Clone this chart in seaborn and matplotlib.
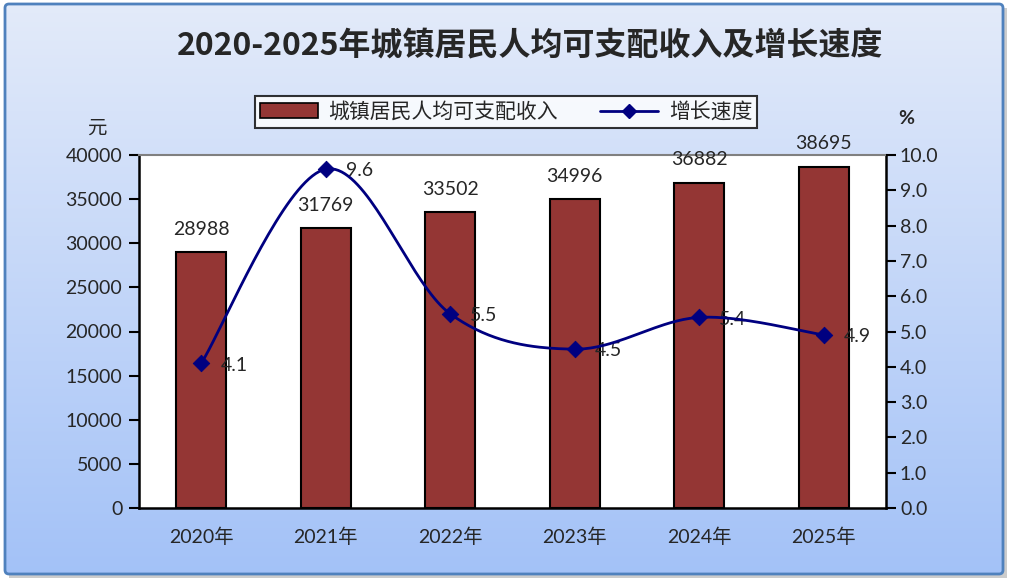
import numpy as np
import pandas as pd
import matplotlib
matplotlib.use("Agg")
import matplotlib.pyplot as plt
import seaborn as sns
from matplotlib.patches import FancyBboxPatch, Rectangle
from matplotlib.lines import Line2D

# data
years = ["2020年", "2021年", "2022年", "2023年", "2024年", "2025年"]
income = [28988, 31769, 33502, 34996, 36882, 38695]
growth = [4.1, 9.6, 5.5, 4.5, 5.4, 4.9]

sns.set_theme(style="white")
plt.rcParams["font.family"] = ["Noto Sans CJK SC", "DejaVu Sans"]
num_font = ["Lato", "Noto Sans CJK SC"]

BAR = "#943634"
NAVY = "#000080"

fig = plt.figure(figsize=(10.1, 5.82), dpi=100)

# gradient background with blue border
bg = fig.add_axes([0, 0, 1, 1], zorder=-10)
bg.set_xlim(0, 1010)
bg.set_ylim(582, 0)
bg.axis("off")
grad = np.linspace(0, 1, 256).reshape(-1, 1)
top_c = np.array([0.89, 0.92, 0.98])
bot_c = np.array([0.64, 0.76, 0.97])
cols = top_c[None, :] + (bot_c - top_c)[None, :] * grad
bg.add_patch(Rectangle((9, 8), 998, 570, color="#9a9a9a", alpha=0.5, lw=0))
bg.imshow(cols[:, None, :], extent=(5, 1003, 574, 4), aspect="auto", zorder=1)
bg.add_patch(FancyBboxPatch((5, 4), 998, 570, boxstyle="round,pad=0,rounding_size=4",
                            fill=False, ec="#4f81bd", lw=2, zorder=2))

ax = fig.add_axes([139 / 1010, 74 / 582, 747 / 1010, 353 / 582])
df = pd.DataFrame({"year": years, "income": income, "growth": growth})
sns.barplot(data=df, x="year", y="income", color=BAR, width=0.4, saturation=1,
            edgecolor="black", linewidth=1.5, ax=ax)
ax.set_facecolor("white")
ax.set_xlim(-0.5, 5.5)
ax.set_ylim(0, 40000)
ax.set_yticks(np.arange(0, 40001, 5000))
ax.set_yticklabels([str(v) for v in range(0, 40001, 5000)], fontsize=14, family=num_font)
ax.set_xlabel("")
ax.set_ylabel("")
ax.tick_params(axis="x", length=0, pad=14, labelsize=14)
for lab in ax.get_xticklabels():
    lab.set_family(num_font)
ax.set_xticks(np.arange(0.5, 5.5, 1), minor=True)
ax.tick_params(axis="x", which="minor", direction="in", length=8, width=1.5, color="black")
ax.tick_params(axis="y", direction="out", length=7, width=1.5, color="black", pad=5)
for s in ["left", "bottom", "right"]:
    ax.spines[s].set_color("black")
    ax.spines[s].set_linewidth(1.8)
ax.spines["top"].set_color("#808080")
ax.spines["top"].set_linewidth(1.5)

for i, v in enumerate(income):
    ax.text(i, v + 1600, str(v), ha="center", va="bottom", fontsize=14, family=num_font)

# smoothed growth line (Catmull-Rom like Excel's smoothed line)
ax2 = ax.twinx()
ax2.set_ylim(0, 10)
xs = np.arange(len(growth), dtype=float)
ys = np.array(growth, dtype=float)
px = np.concatenate([[xs[0]], xs, [xs[-1]]])
py = np.concatenate([[ys[0]], ys, [ys[-1]]])
cx, cy = [], []
t = np.linspace(0, 1, 40)
for i in range(1, len(px) - 2):
    p0, p1, p2, p3 = (np.array([px[j], py[j]]) for j in (i - 1, i, i + 1, i + 2))
    c1 = p1 + (p2 - p0) / 6
    c2 = p2 - (p3 - p1) / 6
    pts = ((1 - t) ** 3)[:, None] * p1 + (3 * (1 - t) ** 2 * t)[:, None] * c1 \
        + (3 * (1 - t) * t ** 2)[:, None] * c2 + (t ** 3)[:, None] * p2
    cx.extend(pts[:, 0])
    cy.extend(pts[:, 1])
ax2.plot(cx, cy, color=NAVY, lw=2, zorder=3)
sns.scatterplot(x=xs, y=ys, marker="D", s=70, color=NAVY, edgecolor=NAVY, ax=ax2, zorder=4)
for i, v in enumerate(growth):
    ax2.text(i + 0.16, v - 0.05, f"{v:.1f}", ha="left", va="center", fontsize=14,
             family=num_font, zorder=2)
ax2.set_yticks(np.arange(0, 10.1, 1))
ax2.set_yticklabels([f"{v:.1f}" for v in np.arange(0, 10.1, 1)], fontsize=14, family=num_font)
ax2.tick_params(axis="y", direction="out", length=7, width=1.5, color="black", pad=3)
for s in ax2.spines.values():
    s.set_visible(False)

fig.text(97 / 1010, 1 - 128 / 582, "元", ha="center", va="center", fontsize=14)
fig.text(906 / 1010, 1 - 119 / 582, "%", ha="center", va="center", fontsize=14,
         fontweight="bold", family=num_font)

fig.text(530 / 1010, 1 - 46 / 582, "2020-2025年城镇居民人均可支配收入及增长速度",
         ha="center", va="center", fontsize=23, fontweight="bold")

handles = [Rectangle((0, 0), 1, 1, fc=BAR, ec="black", lw=1.2),
           Line2D([], [], color=NAVY, lw=2, marker="D", markersize=7)]
leg = fig.legend(handles, ["城镇居民人均可支配收入", "增长速度"], loc="center",
                 bbox_to_anchor=(506 / 1010, 1 - 112 / 582), ncol=2, fontsize=15,
                 frameon=True, fancybox=False, edgecolor="black", facecolor="white",
                 handlelength=2.8, handletextpad=0.5, columnspacing=2.0, borderpad=0.25,
                 borderaxespad=0)
leg.get_frame().set_linewidth(1.5)

fig.savefig("out.png", dpi=100)
